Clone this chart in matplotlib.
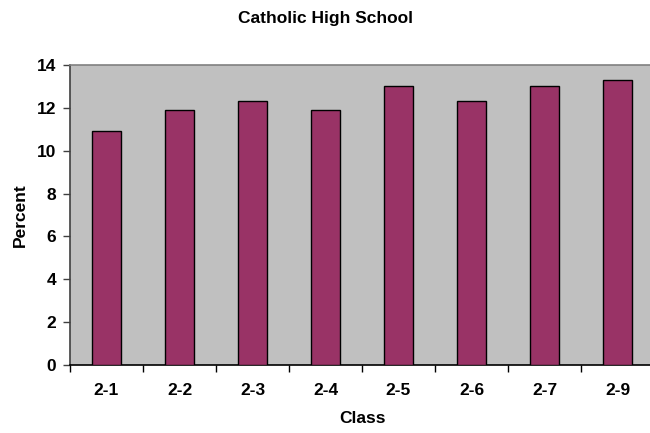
import numpy as np
import matplotlib
matplotlib.use('Agg')
import matplotlib.pyplot as plt

# class percentages
CLASSES = ['2-1', '2-2', '2-3', '2-4', '2-5', '2-6', '2-7', '2-9']
PERCENT = [10.9, 11.9, 12.3, 11.9, 13.0, 12.3, 13.0, 13.3]

BAR_COLOR = '#993366'
PLOT_BG = '#c0c0c0'
FS = 12.5

plt.rcParams['font.family'] = ['Liberation Sans', 'DejaVu Sans']
plt.rcParams['font.weight'] = 'bold'

fig = plt.figure(figsize=(6.5, 4.33), dpi=100)
ax = fig.add_axes([70/650, 1 - 365.3/433, 584/650, (365.3 - 64.7)/433])
ax.set_facecolor(PLOT_BG)

x = np.arange(len(CLASSES))
ax.bar(x, PERCENT, width=0.4, color=BAR_COLOR, edgecolor='black', linewidth=1.0, zorder=3)

ax.set_xlim(-0.5, len(CLASSES) - 0.5)
ax.set_ylim(0, 14)
ax.set_yticks(range(0, 15, 2))

# category labels centred, ticks sit between the categories
ax.set_xticks(x)
ax.set_xticklabels(CLASSES, fontsize=FS, fontweight='bold')
ax.set_xticks(np.arange(-0.5, len(CLASSES)), minor=True)
ax.tick_params(axis='x', which='major', length=0, pad=13)
ax.tick_params(axis='x', which='minor', length=5, width=1, color='black', direction='out')
ax.tick_params(axis='y', length=5, width=1, color='#404040', labelsize=FS, pad=5)
for lab in ax.get_yticklabels():
    lab.set_fontweight('bold')

ax.spines['top'].set_color('#808080')
ax.spines['top'].set_linewidth(1.2)
ax.spines['right'].set_visible(False)
ax.spines['left'].set_color('#404040')
ax.spines['left'].set_linewidth(1.2)
ax.spines['bottom'].set_color('black')
ax.spines['bottom'].set_linewidth(1.2)

ax.set_xlabel('Class', fontsize=FS, fontweight='bold', labelpad=9)
ax.set_ylabel('Percent', fontsize=FS, fontweight='bold', labelpad=6)
fig.text(0.5, 1 - 19/433, 'Catholic High School', ha='center', va='center',
         fontsize=FS, fontweight='bold')

fig.savefig('out.png', dpi=100)
